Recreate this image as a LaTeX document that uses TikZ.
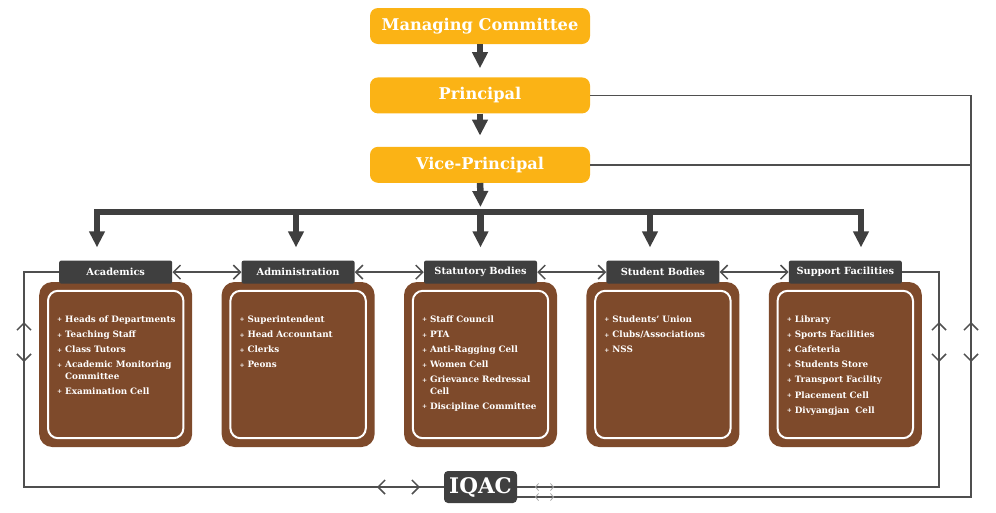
\documentclass[tikz,border=0pt]{standalone}
\usepackage{fontspec}
\setmainfont{DejaVu Serif}
\usetikzlibrary{positioning,arrows.meta}
\definecolor{gold}{HTML}{FBB315}
\definecolor{bark}{HTML}{7E4A2B}
\definecolor{slate}{HTML}{3F3F3F}
\definecolor{wire}{HTML}{4F4F4F}
\newcommand\itm[1]{\par\hangindent=8pt\hangafter=1\noindent\makebox[8pt][l]{\raisebox{.6pt}{\fontsize{6}{6}\selectfont+}}#1\par\vspace{3.6pt}}
\begin{document}
\begin{tikzpicture}[x=1pt, y=-1pt, node distance=33pt,
  top/.style = {fill=gold, rounded corners=8pt, minimum width=220pt, minimum height=36pt, text=white, font=\fontsize{16.2}{18}\selectfont\bfseries},
  head/.style = {fill=slate, rounded corners=2pt, minimum width=113pt, minimum height=23pt, inner sep=0pt, text=white, font=\fontsize{9.8}{11}\selectfont\bfseries},
  panel/.style = {fill=bark, rounded corners=13pt, minimum width=153pt, minimum height=165pt},
  items/.style = {anchor=north west, inner sep=0pt, text width=126pt, align=left, text=white, font=\fontsize{8.8}{11.5}\selectfont\bfseries},
  flow/.style = {draw=slate, line width=6.5pt, -{Triangle[width=15pt,length=16pt]}},
  link/.style = {draw=wire, line width=1.5pt},
  >={Straight Barb[length=7pt,width=14pt]}]
  \useasboundingbox (0,0) rectangle (996,512);

  \node[top] (1) at (480,26) {Managing Committee};
  \node[top] (2) [below=of 1] {Principal};
  \node[top] (3) [below=of 2] {Vice-Principal};

  % panels, then their headings on top
  \node[panel] (b3) at (480.5,364.5) {};
  \node[panel] (b2) [left=29pt of b3] {};
  \node[panel] (b1) [left=29pt of b2] {};
  \node[panel] (b4) [right=29pt of b3] {};
  \node[panel] (b5) [right=29pt of b4] {};
  \foreach \i in {1,...,5}
    \draw[white, line width=2pt, rounded corners=10pt] ([shift={(9pt,-9pt)}]b\i.north west) rectangle ([shift={(-9pt,9pt)}]b\i.south east);

  \node[head] (h1) [above=-2pt of b1] {Academics};
  \node[head] (h2) [above=-2pt of b2] {Administration};
  \node[head] (h3) [above=-2pt of b3] {Statutory Bodies};
  \node[head] (h4) [above=-2pt of b4] {Student Bodies};
  \node[head] (h5) [above=-2pt of b5] {Support Facilities};

  \node[items] (l1) at ([shift={(18pt,-29pt)}]b1.north west) {\itm{Heads of Departments}\itm{Teaching Staff}\itm{Class Tutors}\itm{Academic Monitoring Committee}\itm{Examination Cell}};
  \node[items] (l2) at ([shift={(18pt,-29pt)}]b2.north west) {\itm{Superintendent}\itm{Head Accountant}\itm{Clerks}\itm{Peons}};
  \node[items] (l3) at ([shift={(18pt,-29pt)}]b3.north west) {\itm{Staff Council}\itm{PTA}\itm{Anti-Ragging Cell}\itm{Women Cell}\itm{Grievance Redressal Cell}\itm{Discipline Committee}};
  \node[items] (l4) at ([shift={(18pt,-29pt)}]b4.north west) {\itm{Students' Union}\itm{Clubs/Associations}\itm{NSS}};
  \node[items] (l5) at ([shift={(18pt,-29pt)}]b5.north west) {\itm{Library}\itm{Sports Facilities}\itm{Cafeteria}\itm{Students Store}\itm{Transport Facility}\itm{Placement Cell}\itm{Divyangjan\ \ Cell}};

  \node[fill=slate, rounded corners=4pt, minimum width=73pt, minimum height=32pt, inner sep=0pt, text=white, font=\fontsize{21.5}{22}\selectfont\bfseries] (iqac) at (480.5,487) {IQAC};

  % chain of command
  \draw[flow, shorten >=9pt] (1) -- (2);
  \draw[flow, shorten >=11pt] (2) -- (3);
  \coordinate (k1) at (97,212);
  \coordinate (k2) at (296,212);
  \coordinate (k3) at (480.5,212);
  \coordinate (k4) at (650,212);
  \coordinate (k5) at (861,212);
  \draw[flow, shorten >=5pt] (3) -- (k3);
  \draw[flow, shorten >=13pt] (k3) -| (h1.north -| k1);
  \draw[flow, shorten >=13pt] (k3) -| (h5.north -| k5);
  \foreach \k/\h in {2/2,3/3,4/4}
    \draw[flow, shorten >=13pt] (k\k) -- (h\h.north -| k\k);

  % links between the bodies
  \foreach \a/\b in {1/2,2/3,3/4,4/5}
    \draw[link, <->] (h\a) -- (h\b);

  \coordinate (c1) at (24,487);
  \coordinate (c2) at (939,487);
  \coordinate (c3) at (971,497);
  \draw[link] (h1.west) -| (c1) -- (iqac.west);
  \draw[link] (h5.east) -| (c2) -- (iqac.east);
  \draw[link] (2.east) -| (c3) -- ([yshift=-10pt]iqac.east);
  \draw[link] (3.east) -- (3.east -| c3);

  \draw[link, <->] (24,322) -- (24,362);
  \draw[link, <->] (939,322) -- (939,362);
  \draw[link, <->] (971,322) -- (971,362);
  \draw[link, <->] (377,487) -- (420,487);
  \foreach \y in {487,497}
    \draw[link, {Straight Barb[length=3pt,width=7pt,line width=.8pt,color=gray!70]}-{Straight Barb[length=3pt,width=7pt,line width=.8pt,color=gray!70]}] (535,\y) -- (554,\y);
\end{tikzpicture}
\end{document}
